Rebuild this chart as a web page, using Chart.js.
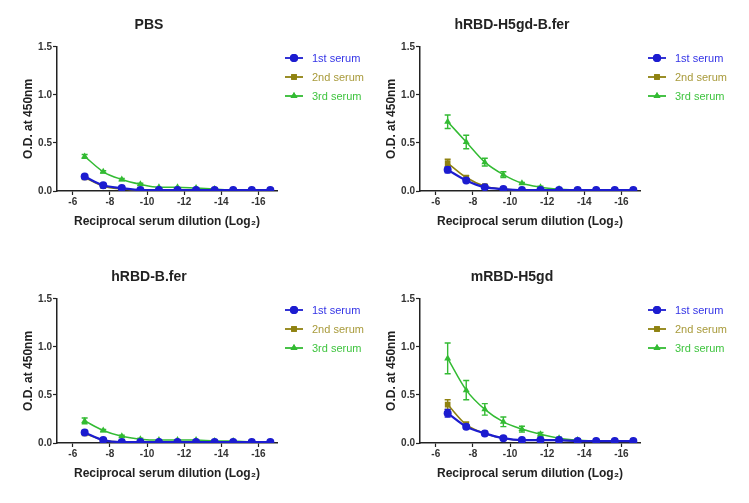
<!DOCTYPE html>
<html>
<head>
<meta charset="utf-8">
<script src="https://cdn.jsdelivr.net/npm/chart.js@4/dist/chart.umd.min.js"></script>
<style>
  body { margin: 0; background: #fff; }
  #wrap { position: relative; width: 749px; height: 503px; }
  .panel { position: absolute; width: 375px; height: 250px; }
</style>
</head>
<body>
<div id="wrap">
  <div class="panel" style="left:0;top:0"><canvas id="c0"></canvas></div>
  <div class="panel" style="left:363px;top:0"><canvas id="c1"></canvas></div>
  <div class="panel" style="left:0;top:252px"><canvas id="c2"></canvas></div>
  <div class="panel" style="left:363px;top:252px"><canvas id="c3"></canvas></div>
</div>
<script>
// log2 of reciprocal dilution (1:100 ... 1:102400)
const dilutions = [-6.64, -7.64, -8.64, -9.64, -10.64, -11.64, -12.64, -13.64, -14.64, -15.64, -16.64];
const xTickLabels = [-6, -8, -10, -12, -14, -16];
const yTickLabels = [0, 0.5, 1.0, 1.5];
const panelTitles = ["PBS", "hRBD-H5gd-B.fer", "hRBD-B.fer", "mRBD-H5gd"];
const seriesNames = ["1st serum", "2nd serum", "3rd serum"];

const pbs1st = [0.15, 0.06, 0.03, 0.01, 0.01, 0.01, 0.01, 0.01, 0.01, 0.01, 0.01];
const pbs2nd = [0.14, 0.05, 0.02, 0.01, 0.01, 0.01, 0.01, 0.01, 0.01, 0.01, 0.01];
const pbs3rd = [0.36, 0.20, 0.12, 0.07, 0.04, 0.04, 0.03, 0.02, 0.01, 0.01, 0.01];
const pbs1stErr = [0.02, 0.01, 0.01, 0, 0, 0, 0, 0, 0, 0, 0];
const pbs2ndErr = [0.01, 0.01, 0, 0, 0, 0, 0, 0, 0, 0, 0];
const pbs3rdErr = [0.02, 0.01, 0.01, 0.01, 0, 0, 0, 0, 0, 0, 0];

const hfer1st = [0.22, 0.11, 0.04, 0.02, 0.01, 0.01, 0.01, 0.01, 0.01, 0.01, 0.01];
const hfer2nd = [0.29, 0.14, 0.05, 0.02, 0.01, 0.01, 0.01, 0.01, 0.01, 0.01, 0.01];
const hfer3rd = [0.72, 0.51, 0.30, 0.17, 0.08, 0.04, 0.02, 0.01, 0.01, 0.01, 0.01];
const hfer1stErr = [0.03, 0.02, 0.01, 0.01, 0, 0, 0, 0, 0, 0, 0];
const hfer2ndErr = [0.04, 0.02, 0.01, 0, 0, 0, 0, 0, 0, 0, 0];
const hfer3rdErr = [0.07, 0.07, 0.04, 0.03, 0.01, 0.01, 0.01, 0, 0, 0, 0];

const bfer1st = [0.11, 0.03, 0.01, 0.01, 0.01, 0.01, 0.01, 0.01, 0.01, 0.01, 0.01];
const bfer2nd = [0.10, 0.03, 0.01, 0.01, 0.01, 0.01, 0.01, 0.01, 0.01, 0.01, 0.01];
const bfer3rd = [0.23, 0.13, 0.07, 0.04, 0.03, 0.03, 0.03, 0.02, 0.02, 0.01, 0.01];
const bfer1stErr = [0.02, 0.01, 0, 0, 0, 0, 0, 0, 0, 0, 0];
const bfer2ndErr = [0.01, 0.01, 0, 0, 0, 0, 0, 0, 0, 0, 0];
const bfer3rdErr = [0.03, 0.01, 0.01, 0.01, 0, 0, 0, 0, 0, 0, 0];

const mh5_1st = [0.31, 0.17, 0.10, 0.05, 0.03, 0.03, 0.03, 0.02, 0.02, 0.02, 0.02];
const mh5_2nd = [0.40, 0.19, 0.10, 0.05, 0.03, 0.03, 0.03, 0.02, 0.02, 0.02, 0.02];
const mh5_3rd = [0.88, 0.55, 0.35, 0.22, 0.145, 0.09, 0.05, 0.03, 0.02, 0.02, 0.02];
const mh5_1stErr = [0.04, 0.02, 0.01, 0.01, 0.01, 0, 0, 0, 0, 0, 0];
const mh5_2ndErr = [0.05, 0.03, 0.01, 0.01, 0, 0, 0, 0, 0, 0, 0];
const mh5_3rdErr = [0.16, 0.10, 0.06, 0.05, 0.03, 0.02, 0.01, 0.01, 0, 0, 0];

const panelValues = [
  [pbs1st, pbs2nd, pbs3rd],
  [hfer1st, hfer2nd, hfer3rd],
  [bfer1st, bfer2nd, bfer3rd],
  [mh5_1st, mh5_2nd, mh5_3rd],
];
const panelErrors = [
  [pbs1stErr, pbs2ndErr, pbs3rdErr],
  [hfer1stErr, hfer2ndErr, hfer3rdErr],
  [bfer1stErr, bfer2ndErr, bfer3rdErr],
  [mh5_1stErr, mh5_2ndErr, mh5_3rdErr],
];

const lineColors = ["#1c1cd0", "#8f8210", "#33bb33"];
const textColors = ["#3434e6", "#a89a3a", "#3fc43f"];
const pointStyles = ["circle", "rect", "triangle"];
const lineWidths = [2.2, 1.6, 1.5];

// vertical SEM bars, drawn with each dataset
const errorBars = {
  id: "errorBars",
  afterDatasetDraw(chart, args) {
    const ds = chart.data.datasets[args.index];
    if (!ds.errors) return;
    const ctx = chart.ctx;
    const y = chart.scales.y;
    ctx.save();
    ctx.strokeStyle = ds.borderColor;
    ctx.lineWidth = 1.4;
    args.meta.data.forEach((pt, i) => {
      const e = ds.errors[i];
      if (!e) return;
      const v = ds.data[i].y;
      const top = y.getPixelForValue(v + e);
      const bot = y.getPixelForValue(Math.max(v - e, 0));
      ctx.beginPath();
      ctx.moveTo(pt.x, top); ctx.lineTo(pt.x, bot);
      ctx.moveTo(pt.x - 3, top); ctx.lineTo(pt.x + 3, top);
      ctx.moveTo(pt.x - 3, bot); ctx.lineTo(pt.x + 3, bot);
      ctx.stroke();
    });
    ctx.restore();
  }
};

// legend in the right padding, Prism style
const sideLegend = {
  id: "sideLegend",
  afterDraw(chart) {
    const ctx = chart.ctx;
    const x0 = chart.chartArea.right + 8;
    chart.data.datasets.forEach((ds, i) => {
      const yy = 58 + i * 19;
      ctx.save();
      ctx.strokeStyle = ds.borderColor;
      ctx.lineWidth = 1.8;
      ctx.beginPath();
      ctx.moveTo(x0, yy); ctx.lineTo(x0 + 18, yy);
      ctx.stroke();
      ctx.fillStyle = ds.borderColor;
      Chart.helpers.drawPoint(ctx, { pointStyle: ds.pointStyle, radius: 4, rotation: 0, borderWidth: 0 }, x0 + 9, yy);
      ctx.fill();
      ctx.font = "11px 'Liberation Sans', Arial, sans-serif";
      ctx.fillStyle = textColors[i];
      ctx.textBaseline = "middle";
      ctx.fillText(ds.label, x0 + 27, yy + 1);
      ctx.restore();
    });
  }
};

const axisFont = { family: "'Liberation Sans', Arial, sans-serif", size: 10, weight: "bold" };
const titleFont = { family: "'Liberation Sans', Arial, sans-serif", size: 12, weight: "bold" };

panelTitles.forEach((title, p) => {
  const datasets = seriesNames.map((name, s) => ({
    label: name,
    data: dilutions.map((x, i) => ({ x: x, y: panelValues[p][s][i] })),
    errors: panelErrors[p][s],
    borderColor: lineColors[s],
    backgroundColor: lineColors[s],
    borderWidth: lineWidths[s],
    pointStyle: pointStyles[s],
    pointRadius: 4,
    pointBorderWidth: 0,
    cubicInterpolationMode: "monotone",
  }));

  new Chart(document.getElementById("c" + p), {
    type: "line",
    data: { datasets: datasets },
    plugins: [errorBars, sideLegend],
    options: {
      responsive: true,
      maintainAspectRatio: false,
      animation: false,
      layout: { padding: { left: 21, right: 98, top: 0, bottom: 21 } },
      plugins: {
        legend: { display: false },
        tooltip: { enabled: false },
        title: {
          display: true,
          text: title,
          color: "#222",
          font: { family: "'Liberation Sans', Arial, sans-serif", size: 14, weight: "bold" },
          padding: { top: 17, bottom: 13 },
        },
      },
      scales: {
        x: {
          type: "linear",
          reverse: true,
          min: -17,
          max: -5.15,
          afterBuildTicks: (scale) => { scale.ticks = xTickLabels.map((v) => ({ value: v })); },
          afterFit: (scale) => { scale.height = 38; },
          ticks: { color: "#333", font: axisFont, padding: 1, maxRotation: 0 },
          grid: { drawOnChartArea: false, tickLength: 4, color: "#222", tickWidth: 1.2 },
          border: { color: "#222", width: 1.5 },
          title: { display: true, text: "Reciprocal serum dilution (Log\u2082)", color: "#222", font: titleFont, padding: 0 },
        },
        y: {
          min: 0,
          max: 1.5,
          afterBuildTicks: (scale) => { scale.ticks = yTickLabels.map((v) => ({ value: v })); },
          afterFit: (scale) => { scale.width = 36; },
          ticks: { color: "#333", font: axisFont, padding: 1, callback: (v) => v.toFixed(1) },
          grid: { drawOnChartArea: false, tickLength: 4, color: "#222", tickWidth: 1.2 },
          border: { color: "#222", width: 1.5 },
          title: { display: true, text: "O.D. at 450nm", color: "#222", font: titleFont, padding: 0 },
        },
      },
    },
  });
});
</script>
</body>
</html>
